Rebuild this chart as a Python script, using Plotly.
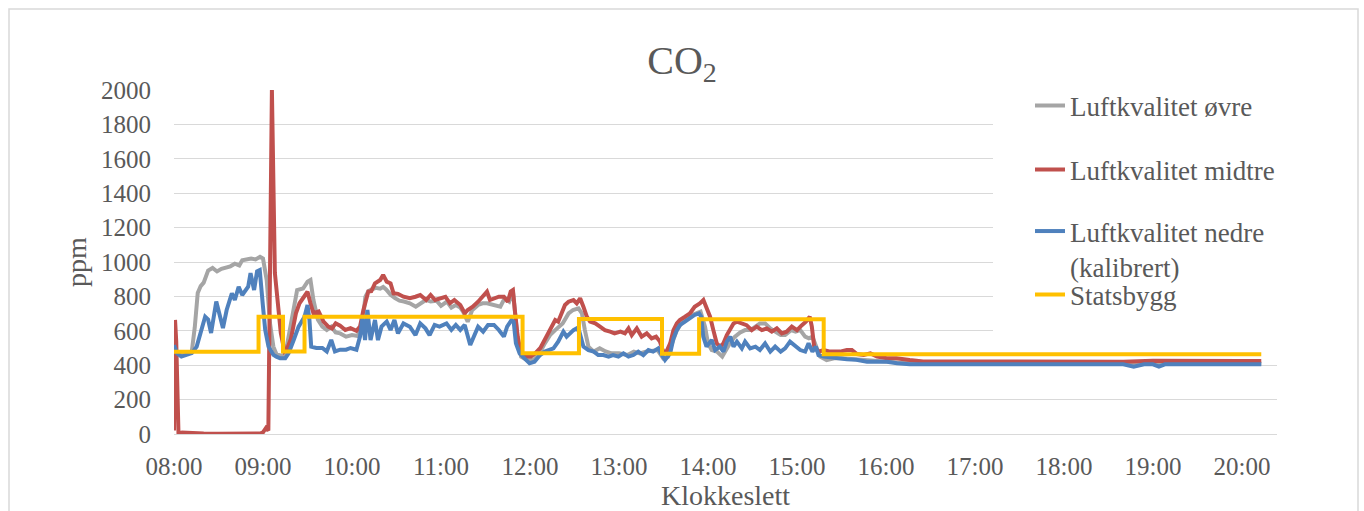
import plotly.graph_objects as go
import pandas as pd

BASE = pd.Timestamp("2020-01-01 08:00")

# ---------------- data (minutes after 08:00, ppm) ----------------
ovre_min = [
    0, 2, 5, 9, 12, 14, 16, 18, 20, 23,
    26, 29, 32, 35, 38, 41, 44, 46, 49, 52,
    55, 58, 60, 62.5, 64.7, 67, 69, 72, 75, 77,
    79, 81, 83, 87, 90, 92, 94, 97, 100, 103,
    106, 109, 112, 116, 120, 124, 127, 129, 131, 133,
    136, 139, 141, 143, 146, 149, 152, 155, 159, 163,
    166, 170, 173, 177, 180, 184, 187, 190, 193, 195,
    198, 201, 205, 208, 211, 214, 217, 220, 223, 226,
    228.5, 230, 232, 234, 238, 243, 247, 250, 253.5, 257,
    262, 266, 269, 272.7, 275, 277, 279.4, 283, 287, 291,
    295, 300, 305.7, 310, 314, 318, 323, 326, 329.8, 333,
    335, 339, 342, 346, 349, 352, 355, 358, 360, 362.5,
    366, 369.6, 372, 375, 378, 381.7, 385, 388.4, 392, 395,
    398.5, 402, 405.3, 409, 412, 416, 419, 422.2, 425.5, 428,
    430.4, 432.7, 435.6, 440, 445, 450, 460, 470, 480, 490,
    520, 560, 600, 650, 700, 733,
]
ovre_ppm = [
    500, 475, 465, 470, 480, 620, 820, 860, 880, 950,
    965, 945, 960, 965, 975, 990, 980, 1010, 1015, 1020,
    1015, 1030, 1020, 895, 645, 508, 465, 455, 460, 560,
    650, 760, 837, 846, 885, 895, 779, 665, 624, 605,
    624, 590, 585, 566, 575, 570, 640, 798, 830, 840,
    850, 845, 855, 840, 810, 790, 775, 770, 760, 740,
    760, 780, 770, 775, 745, 770, 735, 750, 735, 710,
    653, 720, 750, 760, 760, 755, 745, 740, 790, 770,
    828, 700, 527, 450, 430, 435, 479, 527, 575, 604,
    643, 701, 721, 730, 701, 604, 508, 479, 498, 480,
    469, 469, 459, 479, 469, 479, 488, 488, 440, 450,
    508, 604, 643, 672, 692, 701, 711, 624, 527, 488,
    479, 450, 488, 530, 565, 590, 604, 604, 624, 643,
    643, 614, 595, 575, 575, 604, 595, 604, 566, 556,
    566, 508, 450, 430, 440, 440, 435, 428, 420, 415,
    412, 410, 410, 410, 410, 410,
]

midtre_min = [
    0, 0.7, 1.5, 2.3, 3, 5, 10, 20, 30, 40,
    50, 58, 60, 62, 63.6, 66, 68, 70.3, 72, 74.5,
    76, 78.8, 82.2, 84.6, 88, 90, 92, 94, 97.5, 100.8,
    104, 106.5, 109, 112, 115.5, 119, 123, 125.4, 127.7, 131,
    133, 135.5, 139, 141, 143.4, 146, 148, 151, 154.7, 159,
    162.8, 166, 170, 173, 176, 180, 183, 186, 189, 193,
    196, 198, 201.4, 205, 208, 211, 213, 215.7, 219, 222.4,
    225, 227, 228.5, 230, 231.7, 234, 237.2, 240.6, 243.5, 247,
    250, 253.5, 257, 259, 261.4, 263.6, 266, 269.3, 271.5, 273.8,
    276, 278.3, 280.5, 284, 287.2, 290.5, 294, 297, 301, 304,
    306.4, 308.6, 312, 315.3, 318.7, 322, 325, 327.6, 329.8, 332,
    334.5, 336.7, 339, 341, 344.5, 347.8, 351, 354.5, 356.9, 359,
    361.4, 363.6, 365.9, 368.2, 370.4, 372.7, 375, 377.2, 379.5, 382.8,
    386, 389.5, 392.8, 396.3, 399.6, 403, 406.4, 409.8, 413, 416.5,
    420, 423.3, 426, 428.6, 430, 431.6, 434.5, 438, 442.4, 446,
    449, 453.6, 457, 460.4, 465, 469.5, 474, 480.6, 487, 496,
    505, 520, 560, 600, 640, 660, 680, 700, 720, 733,
]
midtre_ppm = [
    20, 663, 540, 30, 10, 8, 5, 3, 2, 2,
    2, 3, 10, 35, 20, 2000, 936, 740, 587, 480,
    490, 552, 702, 760, 808, 827, 760, 702, 712, 653,
    624, 614, 643, 630, 605, 615, 600, 624, 721, 828,
    830, 876, 895, 925, 886, 876, 818, 815, 798, 789,
    798, 808, 779, 808, 779, 789, 798, 760, 779, 750,
    702, 721, 740, 769, 798, 828, 779, 789, 798, 798,
    769, 828, 837, 702, 566, 469, 450, 450, 469, 500,
    546, 604, 663, 653, 701, 750, 769, 779, 760, 789,
    740, 682, 653, 643, 624, 604, 595, 585, 595, 585,
    614, 575, 614, 566, 585, 556, 566, 537, 479, 479,
    527, 604, 643, 663, 682, 701, 740, 759, 779, 740,
    682, 604, 527, 508, 527, 575, 614, 643, 653, 643,
    633, 604, 624, 604, 614, 595, 614, 585, 595, 624,
    604, 633, 653, 682, 624, 508, 479, 488, 479, 479,
    479, 488, 488, 465, 459, 469, 450, 440, 440, 430,
    422, 422, 421, 424, 420, 426, 424, 426, 425, 425,
]

nedre_min = [
    0, 2, 5, 7.4, 10, 12, 15.3, 18.7, 21, 23,
    25, 28.5, 31, 33, 35.5, 39, 41, 43.6, 46, 48.5,
    50, 51.6, 54, 56, 57.8, 60, 61.5, 63.7, 67, 69,
    71.5, 75, 77.3, 80.7, 84, 88, 90, 91.3, 92.5, 96,
    100, 103, 106, 108.5, 112, 116, 119, 123, 125.4, 127,
    128.8, 130.4, 132.5, 135.5, 137.5, 139.9, 143.4, 146, 148.6, 151,
    154.7, 159, 162.8, 166, 169.5, 172.3, 175.7, 179, 183.7, 187,
    190, 193, 196, 199.7, 202, 205, 208.4, 211.7, 215.7, 219,
    222.4, 224.6, 227.6, 229, 230.5, 233, 236.3, 239.7, 243, 246.8,
    250, 255.8, 259, 262.5, 264.7, 267, 269.3, 271.5, 273.3, 276,
    279.4, 283, 286, 289.5, 293, 296, 299.6, 303, 306.4, 309.7,
    313, 316.4, 319.8, 323, 326.5, 329, 331, 334.5, 336.7, 339,
    341, 344.5, 347.8, 351, 354, 355.4, 356.8, 359, 362.5, 364.8,
    368, 370.4, 372.7, 375, 377.2, 379.5, 382.8, 385, 388.4, 392,
    395, 398.5, 402, 405.3, 409, 412, 415.3, 419, 422.2, 425.5,
    427.8, 430.4, 432.7, 434.5, 438, 442.4, 447, 453.6, 460, 467.2,
    474, 480.6, 487.4, 496, 520, 560, 600, 640, 647, 654,
    660, 664, 668, 700, 733,
]
nedre_ppm = [
    517, 470, 450, 455, 460, 470, 508, 605, 682, 665,
    587, 770, 682, 616, 721, 818, 779, 856, 808, 837,
    856, 935, 837, 946, 953, 740, 605, 508, 460, 450,
    440, 440, 470, 547, 624, 682, 750, 665, 508, 500,
    500, 480, 547, 480, 490, 490, 500, 490, 566, 673,
    546, 721, 546, 663, 546, 624, 653, 605, 663, 585,
    643, 624, 575, 643, 614, 575, 634, 624, 643, 605,
    634, 605, 634, 517, 566, 624, 595, 634, 634, 605,
    566, 624, 663, 653, 527, 469, 440, 411, 420, 459,
    479, 498, 537, 595, 566, 585, 604, 614, 595, 508,
    488, 479, 459, 459, 450, 459, 450, 469, 450, 459,
    479, 459, 488, 479, 498, 459, 430, 469, 556, 604,
    633, 653, 672, 692, 701, 682, 566, 508, 547, 488,
    508, 479, 537, 566, 508, 537, 498, 537, 498, 508,
    488, 527, 479, 508, 479, 498, 537, 508, 488, 479,
    527, 479, 508, 459, 450, 446, 440, 434, 432, 420,
    420, 420, 411, 405, 406, 405, 405, 405, 392, 405,
    405, 392, 405, 405, 405,
]

statsbygg_min = [0, 57, 73.5, 88, 235, 273, 329, 354, 438, 733]
statsbygg_ppm = [478, 682, 480, 682, 470, 668, 466, 667, 463, 463]

series_names = ["Luftkvalitet øvre", "Luftkvalitet midtre",
                "Luftkvalitet nedre<br>(kalibrert)", "Statsbygg"]
series_colors = ["#A5A5A5", "#C0504D", "#4F81BD", "#FFC000"]

x_end_min = 743.6
y_ticks = list(range(0, 2001, 200))


def to_time(mins):
    return [BASE + pd.Timedelta(minutes=m) for m in mins]


FONT = "Liberation Serif"
TXT = "#595959"
GRID = "#D9D9D9"

fig = go.Figure()
data = [(ovre_min, ovre_ppm), (midtre_min, midtre_ppm),
        (nedre_min, nedre_ppm), (statsbygg_min, statsbygg_ppm)]
legends = ["legend", "legend2", "legend3", "legend4"]
for i, (mins, vals) in enumerate(data):
    fig.add_trace(go.Scatter(
        x=to_time(mins), y=vals, mode="lines", name=series_names[i],
        line=dict(color=series_colors[i], width=4,
                  shape="hv" if i == 3 else "linear"),
        legend=legends[i], showlegend=True,
    ))

# plot area geometry (pixels)
L, R, T, B = 174, 87, 90, 77
W, H = 1364, 511
pw, ph = W - L - R, H - T - B


def px_x(p):
    return (p - L) / pw


def px_y(p):
    return (H - B - p) / ph


leg_common = dict(font=dict(family=FONT, size=27, color=TXT),
                  bgcolor="rgba(255,255,255,0)", borderwidth=0,
                  xanchor="left", yanchor="middle", x=px_x(1030))
fig.update_layout(
    width=W, height=H,
    margin=dict(l=L, r=R, t=T, b=B),
    paper_bgcolor="white", plot_bgcolor="white",
    showlegend=True,
    title=dict(text="CO<sub>2</sub>", x=0.5, xanchor="center",
               y=1 - 60 / H, yanchor="middle", yref="container",
               font=dict(family=FONT, size=40, color=TXT)),
    legend=dict(leg_common, y=px_y(106)),
    legend2=dict(leg_common, y=px_y(170)),
    legend3=dict(leg_common, y=px_y(249), valign="top"),
    legend4=dict(leg_common, y=px_y(295)),
    xaxis=dict(type="date", automargin=False,
               range=[BASE, BASE + pd.Timedelta(minutes=x_end_min)],
               tickformat="%H:%M", dtick=3600000, tick0=BASE,
               showgrid=False, zeroline=False, showline=True,
               linecolor=GRID, linewidth=1.3, ticks="",
               ticklabelstandoff=10,
               tickfont=dict(family=FONT, size=25, color=TXT),
               title=dict(text="Klokkeslett", standoff=2,
                          font=dict(family=FONT, size=28, color=TXT))),
    yaxis=dict(range=[0, 2000], tickvals=y_ticks, automargin=False,
               showgrid=True, gridcolor=GRID, gridwidth=1.3,
               zeroline=False, showline=False, ticks="",
               ticklabelstandoff=22,
               tickfont=dict(family=FONT, size=25, color=TXT),
               title=dict(text="ppm", standoff=6,
                          font=dict(family=FONT, size=28, color=TXT))),
    shapes=[
        dict(type="rect", xref="paper", yref="paper",
             x0=px_x(993), x1=px_x(1278), y0=px_y(345), y1=px_y(95),
             fillcolor="white", line=dict(width=0), layer="above"),
        dict(type="rect", xref="paper", yref="paper",
             x0=px_x(9), x1=px_x(1358), y0=px_y(520), y1=px_y(9),
             fillcolor="rgba(0,0,0,0)", line=dict(color=GRID, width=1.5)),
    ],
)

fig.write_html("out.html")
